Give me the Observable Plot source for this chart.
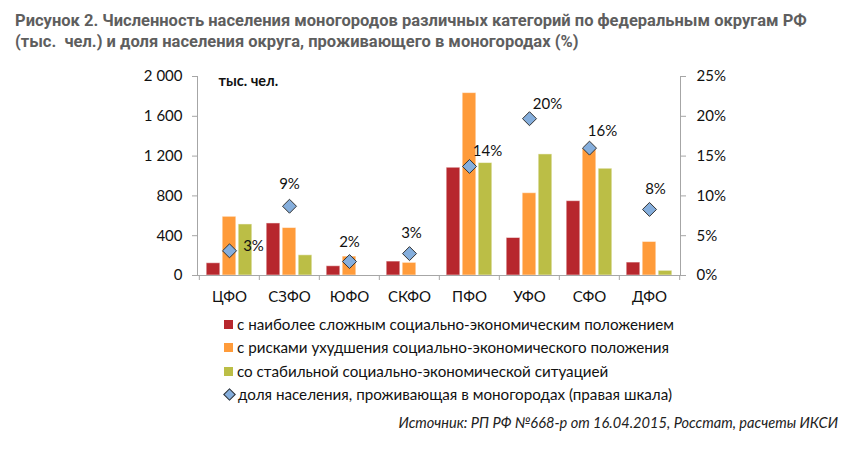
<!DOCTYPE html>
<html><head><meta charset="utf-8">
<script src="https://cdn.jsdelivr.net/npm/d3@7"></script>
<script src="https://cdn.jsdelivr.net/npm/@observablehq/plot@0.6"></script>
<style>
body{margin:0;background:#fff;width:860px;height:465px;position:relative;overflow:hidden;font-family:Lato,"Noto Sans",sans-serif;}
#title{position:absolute;left:15px;top:10px;font-family:"Liberation Sans Narrow","Roboto",sans-serif;font-weight:bold;font-size:16.5px;line-height:21px;color:#5e5e5e;white-space:nowrap;}
#chart{position:absolute;left:0;top:60px;}
#legend{position:absolute;left:224px;top:313px;font-size:15.2px;color:#111;}
.row{height:23.3px;line-height:23.3px;white-space:nowrap;display:flex;align-items:center;}
.sw{display:inline-block;width:9px;height:9px;margin-right:4px;}
.dia{display:inline-block;width:7px;height:7px;background:#85AEDC;border:1px solid #333;transform:rotate(45deg);margin:0 4px 0 1px;}
#source{position:absolute;right:22px;top:414px;font-style:italic;font-size:14.6px;color:#222;white-space:nowrap;}
</style></head>
<body>
<div id="title">Рисунок 2. Численность населения моногородов различных категорий по федеральным округам РФ<br>(тыс.&nbsp; чел.) и доля населения округа, проживающего в моногородах (%)</div>
<div id="chart"></div>
<div id="legend"></div>
<div id="source">Источник: РП РФ №668-р от 16.04.2015, Росстат, расчеты ИКСИ</div>
<script>
const districts = ["ЦФО","СЗФО","ЮФО","СКФО","ПФО","УФО","СФО","ДФО"];
const severe = [123, 523, 93, 140, 1083, 377, 747, 130];
const risk = [590, 477, 190, 127, 1833, 827, 1270, 337];
const stable = [513, 203, null, null, 1130, 1217, 1073, 47];
const share = [3.1, 8.7, 1.75, 2.75, 13.7, 19.7, 16.0, 8.3];
const shareLabels = ["3%","9%","2%","3%","14%","20%","16%","8%"];
const seriesNames = [
  "с наиболее сложным социально-экономическим положением",
  "с рисками ухудшения социально-экономического положения",
  "со стабильной социально-экономической ситуацией"
];
const shareName = "доля населения, проживающая в моногородах (правая шкала)";
const leftTicks = [0, 400, 800, 1200, 1600, 2000];
const rightTicks = [0, 5, 10, 15, 20, 25];
const colors = ["#B7272D", "#FF9B3A", "#BBBE46"];
const labelOffsets = [[24,-5],[0,-22],[0,-19],[2,-20],[18,-15],[18,-15],[13,-17],[6,-20]];

const W = 860, ML = 197, MR = 180;
const leftMax = 2000, rightMax = 25, k = leftMax / rightMax;
const bw = (W - ML - MR) / districts.length;
const barW = 14, gap = 2;
const outer = (bw - 3 * barW - 2 * gap) / 2;
const axisColor = "#a6a6a6";

function bars(values, i) {
  const data = districts.map((d, j) => ({d, v: values[j]})).filter(r => r.v != null);
  const left = outer + i * (barW + gap);
  return Plot.barY(data, {x: "d", y: "v", fill: colors[i], insetLeft: left, insetRight: bw - left - barW,
    stroke: "#fff", strokeOpacity: 0.5, strokeWidth: 1});
}
const shareData = districts.map((d, j) => ({d, v: share[j], label: shareLabels[j]}));
const fmt = v => d3.format(",")(v).replace(/,/g, "\u00a0");

const chart = Plot.plot({
  width: W, height: 245, marginLeft: ML, marginRight: MR, marginTop: 16, marginBottom: 30,
  style: {fontFamily: "Lato, 'Noto Sans', sans-serif", fontSize: "15px", color: "#111", background: "transparent"},
  x: {domain: districts, padding: 0, axis: null},
  y: {domain: [0, leftMax], axis: null},
  marks: [
    bars(severe, 0), bars(risk, 1), bars(stable, 2),
    Plot.ruleY([0], {stroke: axisColor}),
    Plot.frame({anchor: "left", stroke: axisColor}),
    Plot.frame({anchor: "right", stroke: axisColor}),
    Plot.axisY({anchor: "left", label: null, ticks: leftTicks, tickFormat: fmt, tickSize: 5, tickPadding: 10, stroke: axisColor, fontSize: 15, fill: "#111"}),
    Plot.axisY({anchor: "right", label: null, ticks: rightTicks.map(t => t * k), tickFormat: v => Math.round(v / k) + "%", tickSize: 5, tickPadding: 11, stroke: axisColor, fontSize: 15, fill: "#111"}),
    Plot.axisX({label: null, ticks: districts, tickSize: 0, tickPadding: 16, fontSize: 15, fill: "#111"}),
    Plot.axisX({label: null, ticks: districts, tickSize: 5, tickFormat: () => "", dx: -bw / 2, stroke: axisColor}),
    Plot.axisX({label: null, ticks: districts.slice(-1), tickSize: 5, tickFormat: () => "", dx: bw / 2, stroke: axisColor}),
    Plot.dot(shareData, {x: "d", y: r => r.v * k, symbol: "diamond2", r: 6.3, fill: "#85AEDC", stroke: "#333", strokeWidth: 1}),
    ...shareData.map((r, j) => Plot.text([r], {x: "d", y: r2 => r2.v * k, text: "label", dx: labelOffsets[j][0], dy: labelOffsets[j][1], fontSize: 15, fill: "#111"})),
    Plot.text(["тыс. чел."], {frameAnchor: "top-left", dx: 21, dy: -1, textAnchor: "start", lineAnchor: "top", fontWeight: "bold", fontSize: 14.5, fill: "#111"})
  ]
});
document.getElementById("chart").appendChild(chart);

const legend = document.getElementById("legend");
seriesNames.forEach((n, i) => {
  const row = document.createElement("div"); row.className = "row";
  row.innerHTML = `<span class="sw" style="background:${colors[i]}"></span>${n}`;
  legend.appendChild(row);
});
const row = document.createElement("div"); row.className = "row";
row.innerHTML = `<span class="dia"></span>${shareName}`;
legend.appendChild(row);
</script>
</body></html>
